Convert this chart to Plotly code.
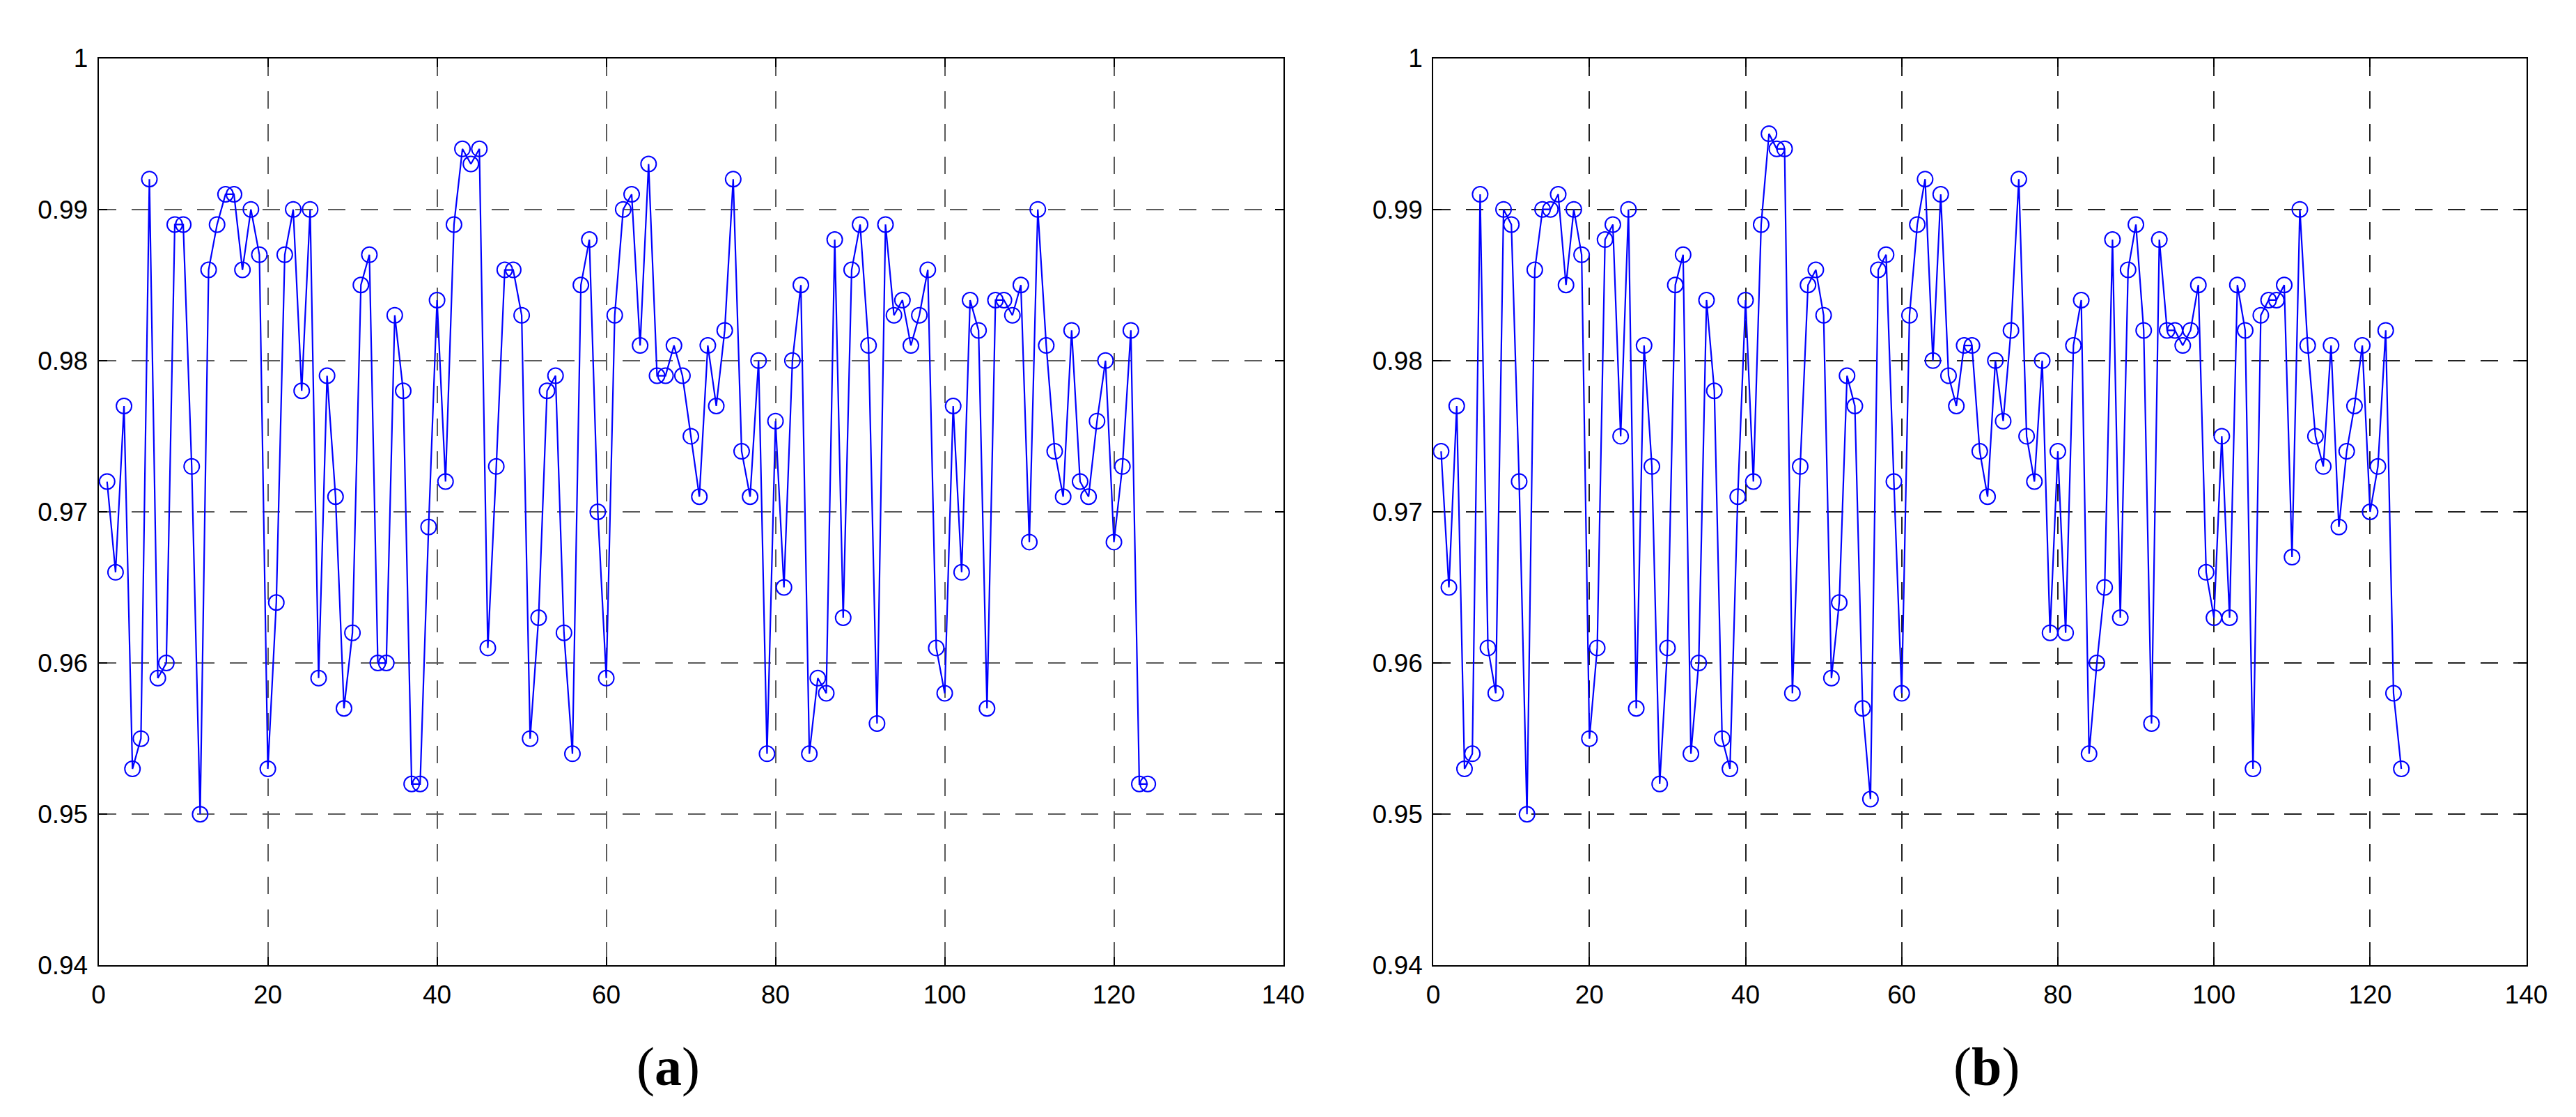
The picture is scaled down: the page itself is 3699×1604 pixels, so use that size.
import plotly.graph_objects as go

# ---------------- data ----------------
x_index = list(range(1, 125))

series_a = [0.972, 0.966, 0.977, 0.953, 0.955, 0.992, 0.959, 0.960, 0.989, 0.989,
            0.973, 0.950, 0.986, 0.989, 0.991, 0.991, 0.986, 0.990, 0.987, 0.953,
            0.964, 0.987, 0.990, 0.978, 0.990, 0.959, 0.979, 0.971, 0.957, 0.962,
            0.985, 0.987, 0.960, 0.960, 0.983, 0.978, 0.952, 0.952, 0.969, 0.984,
            0.972, 0.989, 0.994, 0.993, 0.994, 0.961, 0.973, 0.986, 0.986, 0.983,
            0.955, 0.963, 0.978, 0.979, 0.962, 0.954, 0.985, 0.988, 0.970, 0.959,
            0.983, 0.990, 0.991, 0.981, 0.993, 0.979, 0.979, 0.981, 0.979, 0.975,
            0.971, 0.981, 0.977, 0.982, 0.992, 0.974, 0.971, 0.980, 0.954, 0.976,
            0.965, 0.980, 0.985, 0.954, 0.959, 0.958, 0.988, 0.963, 0.986, 0.989,
            0.981, 0.956, 0.989, 0.983, 0.984, 0.981, 0.983, 0.986, 0.961, 0.958,
            0.977, 0.966, 0.984, 0.982, 0.957, 0.984, 0.984, 0.983, 0.985, 0.968,
            0.990, 0.981, 0.974, 0.971, 0.982, 0.972, 0.971, 0.976, 0.980, 0.968,
            0.973, 0.982, 0.952, 0.952]

series_b = [0.974, 0.965, 0.977, 0.953, 0.954, 0.991, 0.961, 0.958, 0.990, 0.989,
            0.972, 0.950, 0.986, 0.990, 0.990, 0.991, 0.985, 0.990, 0.987, 0.955,
            0.961, 0.988, 0.989, 0.975, 0.990, 0.957, 0.981, 0.973, 0.952, 0.961,
            0.985, 0.987, 0.954, 0.960, 0.984, 0.978, 0.955, 0.953, 0.971, 0.984,
            0.972, 0.989, 0.995, 0.994, 0.994, 0.958, 0.973, 0.985, 0.986, 0.983,
            0.959, 0.964, 0.979, 0.977, 0.957, 0.951, 0.986, 0.987, 0.972, 0.958,
            0.983, 0.989, 0.992, 0.980, 0.991, 0.979, 0.977, 0.981, 0.981, 0.974,
            0.971, 0.980, 0.976, 0.982, 0.992, 0.975, 0.972, 0.980, 0.962, 0.974,
            0.962, 0.981, 0.984, 0.954, 0.960, 0.965, 0.988, 0.963, 0.986, 0.989,
            0.982, 0.956, 0.988, 0.982, 0.982, 0.981, 0.982, 0.985, 0.966, 0.963,
            0.975, 0.963, 0.985, 0.982, 0.953, 0.983, 0.984, 0.984, 0.985, 0.967,
            0.990, 0.981, 0.975, 0.973, 0.981, 0.969, 0.974, 0.977, 0.981, 0.970,
            0.973, 0.982, 0.958, 0.953]

x_ticks = [0, 20, 40, 60, 80, 100, 120, 140]
y_ticks = [0.94, 0.95, 0.96, 0.97, 0.98, 0.99, 1.0]
y_tick_text = ["0.94", "0.95", "0.96", "0.97", "0.98", "0.99", "1"]
panel_labels = ["(<b>a</b>)", "(<b>b</b>)"]

# ---------------- figure ----------------
W, H = 3699, 1604
BLUE = "#0000ff"

fig = go.Figure()

for k, (ys, xa, ya) in enumerate([(series_a, "x", "y"), (series_b, "x2", "y2")]):
    fig.add_trace(go.Scatter(
        x=x_index, y=ys, xaxis=xa, yaxis=ya, mode="lines+markers",
        line=dict(color=BLUE, width=2.2),
        marker=dict(symbol="circle-open", size=22, color=BLUE, line=dict(width=2, color=BLUE)),
        showlegend=False, hoverinfo="x+y",
    ))

tick_font = dict(family="Liberation Sans, Arial, sans-serif", size=37, color="black")

def xaxis_cfg(domain, gridcolor):
    return dict(domain=domain, range=[0, 140], tickvals=x_ticks, ticktext=[str(v) for v in x_ticks],
                showline=True, linecolor="black", linewidth=2, mirror="ticks",
                ticks="inside", ticklen=12, tickwidth=1.5, tickcolor="black",
                showgrid=True, gridcolor=gridcolor, gridwidth=1.6, griddash="25px,22px",
                zeroline=False, tickfont=tick_font, ticklabelstandoff=8)

def yaxis_cfg(domain, gridcolor, anchor):
    return dict(domain=domain, range=[0.94, 1.0], tickvals=y_ticks, ticktext=y_tick_text,
                showline=True, linecolor="black", linewidth=2, mirror="ticks",
                ticks="inside", ticklen=12, tickwidth=1.5, tickcolor="black",
                showgrid=True, gridcolor=gridcolor, gridwidth=1.6, griddash="25px,22px",
                zeroline=False, tickfont=tick_font, anchor=anchor, ticklabelstandoff=6)

left_dom = [125 / W, 1845 / W]
right_dom = [2063 / W, 3650 / W]
y_dom = [1 - 1394 / H, 1 - 57 / H]

fig.update_layout(
    width=W, height=H,
    margin=dict(l=0, r=0, t=0, b=0),
    paper_bgcolor="white", plot_bgcolor="white",
    xaxis=dict(**xaxis_cfg(left_dom, "#5a5a5a"), anchor="y"),
    yaxis=yaxis_cfg(y_dom, "#5a5a5a", "x"),
    xaxis2=dict(**xaxis_cfg(right_dom, "#222222"), anchor="y2"),
    yaxis2=yaxis_cfg(y_dom, "#222222", "x2"),
)

label_x = [952 / W, 2866 / W]
for lx, txt in zip(label_x, panel_labels):
    fig.add_annotation(x=lx, y=1 - 1543 / H, xref="paper", yref="paper",
                       text=txt, showarrow=False, xanchor="center", yanchor="middle",
                       font=dict(family="Liberation Serif, Times New Roman, serif", size=78, color="black"))

fig.write_html("out.html")
